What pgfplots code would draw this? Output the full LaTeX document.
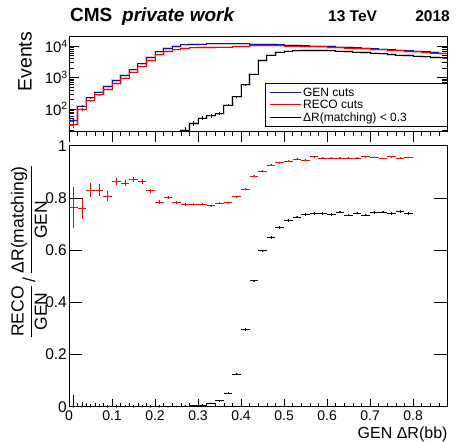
\documentclass[border=0pt]{standalone}
\usepackage{pgfplots}
\pgfplotsset{compat=1.18}
\usepackage{pgfplotstable}
\usepackage{fontspec}
\setmainfont{Liberation Sans}

\definecolor{genblue}{RGB}{20,20,150}
\definecolor{recored}{RGB}{255,0,0}

% event counts per bin (left bin edge), bin width 0.02
\pgfplotstableread{
x    gen   reco
0.00 43    31
0.02 122   95
0.04 226   180
0.06 338   280
0.08 513   410
0.10 800   650
0.12 1160  960
0.14 1770  1470
0.16 2700  2200
0.18 4310  3500
0.20 6590  5300
0.22 8500  6800
0.24 9800  7700
0.26 11000 8550
0.28 11400 8835
0.30 11700 9068
0.32 11850 9125
0.34 11900 9270
0.36 11900 9306
0.38 11850 9539
0.40 11750 9788
0.42 11600 10254
0.44 11400 10294
0.46 11200 10371
0.48 11000 10285
0.50 10750 10116
0.52 10500 9954
0.54 10300 9734
0.56 10100 9676
0.58 9900  9435
0.60 9650  9196
0.62 9400  8958
0.64 9150  8720
0.66 8800  8386
0.68 8500  8143
0.70 8200  7831
0.72 7950  7560
0.74 7700  7377
0.76 7400  7052
0.78 7150  6828
0.80 6850  6542
0.82 6550  6255
0.84 6250  5969
0.86 5950  5682
0.88 5950  5682
}\histtab

\pgfplotstableread{
x    match
0.24 1
0.26 21
0.28 34
0.30 51
0.32 60
0.34 70
0.36 132
0.38 244
0.40 580
0.42 1290
0.44 3450
0.46 5200
0.48 6400
0.50 6900
0.52 7100
0.54 7200
0.56 7250
0.58 7200
0.60 7100
0.62 6950
0.64 6800
0.66 6500
0.68 6230
0.70 5960
0.72 5700
0.74 5460
0.76 5220
0.78 5000
0.80 4780
0.82 4580
0.84 4380
0.86 4200
0.88 4200
}\matchtab

% efficiencies (bin centre, value, uncertainty)
\pgfplotstableread{
x    y     ey
0.01 0.762 0.078
0.03 0.760 0.040
0.05 0.830 0.027
0.07 0.830 0.022
0.09 0.807 0.020
0.11 0.862 0.013
0.13 0.856 0.012
0.15 0.871 0.010
0.17 0.864 0.009
0.19 0.828 0.008
0.21 0.784 0.007
0.23 0.801 0.006
0.25 0.782 0.005
0.27 0.775 0.005
0.29 0.775 0.004
0.31 0.775 0.004
0.33 0.770 0.004
0.35 0.779 0.004
0.37 0.782 0.004
0.39 0.805 0.004
0.41 0.833 0.004
0.43 0.884 0.003
0.45 0.903 0.003
0.47 0.926 0.003
0.49 0.935 0.003
0.51 0.941 0.003
0.53 0.948 0.003
0.55 0.945 0.003
0.57 0.958 0.003
0.59 0.953 0.003
0.61 0.953 0.003
0.63 0.953 0.003
0.65 0.953 0.003
0.67 0.953 0.003
0.69 0.958 0.003
0.71 0.955 0.003
0.73 0.951 0.003
0.75 0.958 0.003
0.77 0.953 0.003
0.79 0.955 0.003
}\recoeff

\pgfplotstableread{
x    y     ey
0.01 0     0.045
0.03 0     0.018
0.05 0     0.012
0.07 0     0.010
0.09 0     0.008
0.11 0     0.007
0.13 0     0.006
0.15 0     0.006
0.17 0     0.005
0.19 0     0.005
0.21 0     0.005
0.23 0     0.004
0.25 0.001 0.003
0.27 0.002 0.003
0.29 0.004 0.003
0.31 0.006 0.003
0.33 0.013 0.003
0.35 0.023 0.003
0.37 0.051 0.004
0.39 0.125 0.004
0.41 0.295 0.005
0.43 0.482 0.005
0.45 0.597 0.005
0.47 0.649 0.005
0.49 0.687 0.005
0.51 0.713 0.005
0.53 0.727 0.005
0.55 0.736 0.005
0.57 0.740 0.005
0.59 0.740 0.005
0.61 0.737 0.005
0.63 0.746 0.005
0.65 0.734 0.005
0.67 0.742 0.005
0.69 0.734 0.005
0.71 0.743 0.005
0.73 0.746 0.005
0.75 0.740 0.005
0.77 0.747 0.005
0.79 0.740 0.005
}\matcheff

\begin{document}
\begin{tikzpicture}
\useasboundingbox (0,0) rectangle (463bp,442bp);

% ---------------- upper pad: event counts ----------------
\begin{axis}[
  at={(69bp,310.3bp)}, anchor=south west, scale only axis,
  width=378.5bp, height=95.3bp,
  xmin=0, xmax=0.88, ymode=log, ymin=18.7, ymax=20500,
  xtick=\empty,
  ytick={10,100,1000,10000,100000},
  yticklabels={,10\textsuperscript{2},10\textsuperscript{3},10\textsuperscript{4},},
  ytick pos=both, tick align=inside,
  major tick length=10bp, minor tick length=5bp,
  yticklabel style={font=\fontsize{15bp}{17bp}\selectfont, inner sep=1bp},
  axis line style={line width=0.8bp},
  every tick/.style={black, line width=0.6bp},
  legend style={at={(1,0.05)}, anchor=south east, draw=black, line width=0.8bp,
    fill=white, font=\fontsize{12bp}{14bp}\selectfont,
    inner xsep=4bp, inner ysep=2bp, row sep=-1.5bp, cells={anchor=west}},
  legend image code/.code={\draw[#1] (0bp,0bp) -- (31bp,0bp);},
]
% light uncertainty bands
\addplot[const plot mark left, genblue!45, line width=2.4bp, opacity=0.5, forget plot] table[x=x,y=gen]{\histtab};
\addplot[const plot mark left, recored!45, line width=2.4bp, opacity=0.5, forget plot] table[x=x,y=reco]{\histtab};
\addplot[const plot mark left, black!40, line width=2.4bp, opacity=0.5, forget plot] table[x=x,y=match]{\matchtab};
% histograms
\addplot[const plot mark left, genblue, line width=1bp] table[x=x,y=gen]{\histtab};
\addlegendentry{\makebox[138bp][l]{GEN cuts}}
\addplot[const plot mark left, recored, line width=1bp] table[x=x,y=reco]{\histtab};
\addlegendentry{\makebox[138bp][l]{RECO cuts}}
\addplot[const plot mark left, black, line width=1bp] table[x=x,y=match]{\matchtab};
\addlegendentry{\makebox[138bp][l]{ΔR(matching) < 0.3}}
% statistical errors where they are visible
\addplot[draw=none, no markers, forget plot, error bars/.cd, y dir=both, y explicit,
  error bar style={genblue, line width=0.8bp}, error mark=none]
  coordinates {(0.01,43) +- (0,6.6) (0.03,122) +- (0,11) (0.05,226) +- (0,15) (0.07,338) +- (0,18)};
\addplot[draw=none, no markers, forget plot, error bars/.cd, y dir=both, y explicit,
  error bar style={recored, line width=0.8bp}, error mark=none]
  coordinates {(0.01,31) +- (0,5.6) (0.03,95) +- (0,9.7) (0.05,180) +- (0,13.4) (0.07,280) +- (0,16.7)};
\addplot[draw=none, no markers, forget plot, error bars/.cd, y dir=both, y explicit,
  error bar style={black, line width=0.8bp}, error mark=none]
  coordinates {(0.27,21) +- (0,4.6) (0.29,34) +- (0,5.8) (0.31,51) +- (0,7.1) (0.33,60) +- (0,7.7)
               (0.35,70) +- (0,8.4) (0.37,132) +- (0,11.5) (0.39,244) +- (0,15.6) (0.41,580) +- (0,24)};
\end{axis}

% x ticks of the upper pad (pointing outwards)
\begin{axis}[
  at={(69bp,310.3bp)}, anchor=south west, scale only axis,
  width=378.5bp, height=95.3bp,
  xmin=0, xmax=0.88, ymin=0, ymax=1,
  axis x line*=bottom, axis y line=none,
  xtick={0,0.1,0.2,0.3,0.4,0.5,0.6,0.7,0.8},
  minor xtick={0.02,0.04,0.06,0.08,0.12,0.14,0.16,0.18,0.22,0.24,0.26,0.28,0.32,0.34,0.36,0.38,0.42,0.44,0.46,0.48,0.52,0.54,0.56,0.58,0.62,0.64,0.66,0.68,0.72,0.74,0.76,0.78,0.82,0.84,0.86},
  xticklabels={}, tick align=outside,
  major tick length=10bp, minor tick length=4.5bp,
  axis line style={line width=0.8bp},
  every tick/.style={black, line width=0.6bp},
]
\addplot[draw=none, forget plot] coordinates {(0,0)};
\end{axis}

% ---------------- lower pad: efficiencies ----------------
\begin{axis}[
  at={(69bp,35.3bp)}, anchor=south west, scale only axis,
  width=378.5bp, height=261bp,
  xmin=0, xmax=0.88, ymin=0, ymax=1,
  xtick={0,0.1,0.2,0.3,0.4,0.5,0.6,0.7,0.8},
  xticklabels={0,0.1,0.2,0.3,0.4,0.5,0.6,0.7,0.8},
  xtick style={draw=none},
  ytick={0,0.2,0.4,0.6,0.8,1},
  yticklabels={0,0.2,0.4,0.6,0.8,1},
  ytick pos=both, tick align=inside,
  major tick length=13bp,
  xticklabel style={font=\fontsize{14bp}{16bp}\selectfont, inner sep=1bp, yshift=-3bp},
  yticklabel style={font=\fontsize{15.5bp}{17bp}\selectfont, inner sep=1bp, xshift=-1bp},
  axis line style={line width=0.8bp},
  every tick/.style={black, line width=0.6bp},
]
\addplot[recored, only marks, mark=*, mark size=0.6bp,
  error bars/.cd, x dir=both, x fixed=0.01, y dir=both, y explicit,
  error bar style={recored, line width=0.8bp}, error mark=none]
  table[x=x, y=y, y error=ey]{\recoeff};
\addplot[black, only marks, mark=*, mark size=0.6bp,
  error bars/.cd, x dir=both, x fixed=0.01, y dir=both, y explicit,
  error bar style={black, line width=0.8bp}, error mark=none]
  table[x=x, y=y, y error=ey]{\matcheff};
\end{axis}

% x ticks of the lower pad
\begin{axis}[
  at={(69bp,35.3bp)}, anchor=south west, scale only axis,
  width=378.5bp, height=261bp,
  xmin=0, xmax=0.88, ymin=0, ymax=1,
  axis x line*=bottom, axis y line=none,
  xtick={0,0.1,0.2,0.3,0.4,0.5,0.6,0.7,0.8},
  minor xtick={0.02,0.04,0.06,0.08,0.12,0.14,0.16,0.18,0.22,0.24,0.26,0.28,0.32,0.34,0.36,0.38,0.42,0.44,0.46,0.48,0.52,0.54,0.56,0.58,0.62,0.64,0.66,0.68,0.72,0.74,0.76,0.78,0.82,0.84,0.86},
  xticklabels={}, tick align=inside,
  major tick length=8bp, minor tick length=4bp,
  axis line style={line width=0.8bp},
  every tick/.style={black, line width=0.6bp},
]
\addplot[draw=none, forget plot] coordinates {(0,0)};
\end{axis}

% titles and axis titles
\node[anchor=base west, inner sep=0, font=\fontsize{19bp}{22bp}\selectfont\bfseries] at (70bp,420.3bp) {CMS};
\node[anchor=base west, inner sep=0, font=\fontsize{19bp}{22bp}\selectfont\bfseries\itshape] at (122bp,420.3bp) {private work};
\node[anchor=base west, inner sep=0, font=\fontsize{15.5bp}{18bp}\selectfont\bfseries] at (328bp,420.3bp) {13 TeV};
\node[anchor=base east, inner sep=0, font=\fontsize{15.5bp}{18bp}\selectfont\bfseries] at (450bp,420.3bp) {2018};
\node[rotate=90, inner sep=0, font=\fontsize{19.5bp}{22bp}\selectfont] at (25bp,380.3bp) {Events};
\node[rotate=90, inner sep=0, font=\fontsize{17.5bp}{20bp}\selectfont] at (29bp,190.5bp)
  {$\displaystyle\frac{\mbox{RECO}}{\mbox{GEN}}$\,/\,$\displaystyle\frac{\mbox{ΔR(matching)}}{\mbox{GEN}}$};
\node[anchor=base east, inner sep=0, font=\fontsize{16bp}{18bp}\selectfont] at (447.7bp,4bp) {GEN ΔR(bb)};
\end{tikzpicture}
\end{document}
